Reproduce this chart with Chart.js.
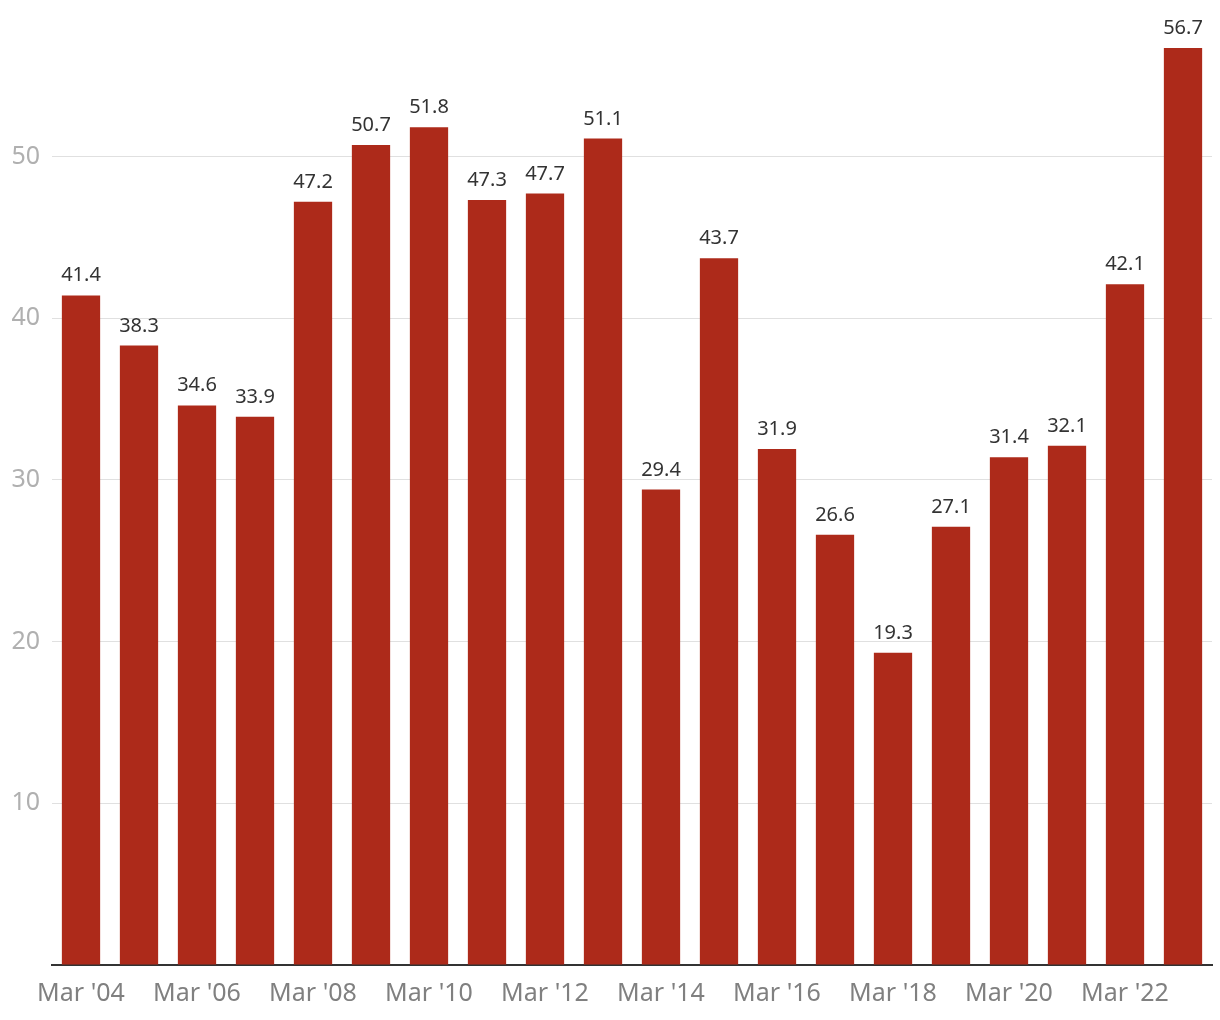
<!DOCTYPE html>
<html>
<head>
    <title>Mar figures</title>
    <style>
        body { margin: 0; background: #fff; }
        #chart-container { width: 1220px; height: 1020px; }
    </style>
</head>
<body>
    <div id="chart-container">
        <canvas id="myChart"></canvas>
    </div>

    <script src="https://cdn.jsdelivr.net/npm/chart.js"></script>
    <script>
        // Data
        const years = ['04', '05', '06', '07', '08', '09', '10', '11', '12', '13',
                       '14', '15', '16', '17', '18', '19', '20', '21', '22', '23'];
        const labels = years.map(y => "Mar '" + y);
        const values = [41.4, 38.3, 34.6, 33.9, 47.2, 50.7, 51.8, 47.3, 47.7, 51.1,
                        29.4, 43.7, 31.9, 26.6, 19.3, 27.1, 31.4, 32.1, 42.1, 56.7];
        const yTicks = [10, 20, 30, 40, 50];

        const fontFamily = "'Noto Sans', sans-serif";

        // Draw the value above each bar
        const valueLabels = {
            id: 'valueLabels',
            afterDatasetsDraw(chart) {
                const ctx = chart.ctx;
                const meta = chart.getDatasetMeta(0);
                ctx.save();
                ctx.font = '20px ' + fontFamily;
                ctx.fillStyle = '#333333';
                ctx.textAlign = 'center';
                ctx.textBaseline = 'alphabetic';
                meta.data.forEach((bar, i) => {
                    ctx.fillText(values[i].toFixed(1), bar.x, bar.y - 14);
                });
                ctx.restore();
            }
        };

        const ctx = document.getElementById('myChart').getContext('2d');
        const myChart = new Chart(ctx, {
            type: 'bar',
            data: {
                labels: labels,
                datasets: [{
                    data: values,
                    backgroundColor: '#ad2a1a',
                    categoryPercentage: 1,
                    barPercentage: 0.66
                }]
            },
            options: {
                responsive: true,
                maintainAspectRatio: false,
                animation: false,
                layout: { padding: { top: 23, right: 8, left: 0, bottom: 0 } },
                plugins: {
                    legend: { display: false },
                    tooltip: { enabled: false }
                },
                scales: {
                    x: {
                        grid: { display: false },
                        border: { color: '#333333', width: 2 },
                        ticks: {
                            autoSkip: false,
                            maxRotation: 0,
                            color: '#808080',
                            font: { family: fontFamily, size: 25 },
                            padding: 6,
                            callback: (v, i) => (i % 2 === 0 ? labels[i] : '')
                        },
                        afterFit: scale => { scale.height = 55; }
                    },
                    y: {
                        min: 0,
                        max: 58,
                        afterBuildTicks: scale => {
                            scale.ticks = [0].concat(yTicks).map(v => ({ value: v }));
                        },
                        grid: { color: '#e0e0e0', lineWidth: 1, drawTicks: false },
                        border: { display: false },
                        ticks: {
                            color: '#b0b0b0',
                            font: { family: fontFamily, size: 25 },
                            padding: 12,
                            callback: v => (v === 0 ? '' : v)
                        },
                        afterFit: scale => { scale.width = 52; }
                    }
                }
            },
            plugins: [valueLabels]
        });
    </script>
</body>
</html>
